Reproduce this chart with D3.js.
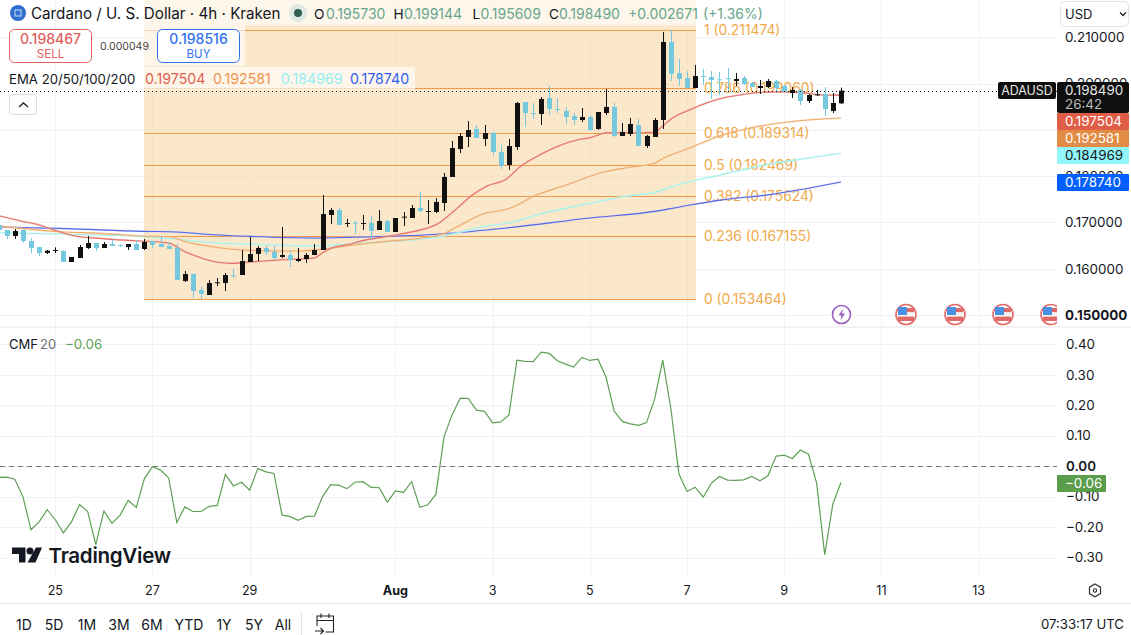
<!DOCTYPE html>
<html><head><meta charset="utf-8">
<script src="https://cdn.jsdelivr.net/npm/d3@7"></script>
<style>html,body{margin:0;padding:0;background:#fff;overflow:hidden}svg{display:block}text{font-family:Inter,"Noto Sans",sans-serif}</style>
</head><body><svg id="c" width="1131" height="635"></svg>
<script>
const opens=[.16946,.16838,.16708,.16838,.16600,.16471,.16341,.16399,.16385,.16147,.16233,.16449,.16557,.16449,.16536,.16507,.16471,.16536,.16428,.16600,.16536,.16492,.16449,.15736,.15888,.15542,.15434,.15700,.15693,.15859,.15866,.16147,.16320,.16449,.16363,.16255,.16298,.16168,.16212,.16298,.16406,.17162,.17270,.16982,.16996,.16975,.16989,.16838,.17032,.16795,.17112,.17097,.17313,.17234,.17227,.17421,.17983,.18588,.18847,.19020,.18804,.18933,.18523,.18242,.18631,.19603,.19365,.19344,.19689,.19452,.19408,.19300,.19214,.19279,.19020,.19365,.19495,.18868,.18912,.19106,.18652,.18847,.19214,.20899,.20229,.20121,.19905,.20164,.20143,.20092,.20114,.20056,.20121,.20013,.19905,.19927,.20056,.19948,.19797,.19862,.19624,.19754,.19776,.19408,.19573];
const highs=[.16980,.16838,.16860,.16852,.16658,.16471,.16406,.16464,.16399,.16255,.16514,.16708,.16557,.16579,.16636,.16536,.16536,.16622,.16644,.16600,.16708,.16579,.16536,.15952,.15909,.15607,.15758,.15801,.15909,.15996,.16406,.16687,.16492,.16492,.16492,.16903,.16385,.16449,.16341,.16536,.17594,.17313,.17313,.17076,.17032,.17162,.17140,.17270,.17054,.17097,.17227,.17378,.17659,.17486,.17529,.18069,.18760,.18933,.19192,.19106,.19106,.18955,.18674,.18804,.19603,.19603,.19581,.19711,.19948,.19689,.19495,.19365,.19473,.19322,.19387,.19884,.19581,.19149,.19257,.19236,.18890,.19257,.21115,.21158,.20532,.20272,.20402,.20316,.20272,.20251,.20337,.20229,.20164,.20035,.20078,.20100,.20078,.19970,.19927,.19884,.19776,.19862,.19927,.19797,.19914];
const lows=[.16838,.16644,.16644,.16564,.16341,.16276,.16320,.16341,.16147,.16147,.16233,.16428,.16385,.16449,.16492,.16471,.16406,.16406,.16406,.16449,.16471,.16428,.15758,.15715,.15369,.15348,.15434,.15628,.15520,.15801,.15866,.16147,.16168,.16298,.16190,.16233,.16039,.16147,.16125,.16298,.16406,.16968,.16946,.16903,.16752,.16838,.16636,.16838,.16795,.16795,.16924,.17097,.17227,.16968,.17205,.17248,.17983,.18501,.18631,.18825,.18652,.18458,.18156,.18134,.18566,.19063,.19236,.19106,.19322,.19365,.19128,.19106,.19171,.18976,.18998,.19322,.18847,.18868,.18868,.18652,.18609,.18847,.19020,.20056,.19948,.19905,.19905,.19970,.19668,.19754,.19840,.19948,.19970,.19927,.19776,.19905,.19797,.19819,.19689,.19538,.19581,.19732,.19300,.19365,.19561];
const closes=[.16838,.16708,.16816,.16600,.16449,.16341,.16392,.16406,.16147,.16255,.16471,.16557,.16449,.16536,.16492,.16500,.16536,.16406,.16579,.16514,.16471,.16428,.15758,.15888,.15520,.15456,.15693,.15708,.15866,.15844,.16168,.16320,.16449,.16363,.16233,.16298,.16190,.16212,.16298,.16406,.17184,.17270,.16946,.16989,.16989,.16989,.16816,.17032,.16795,.17097,.17126,.17313,.17248,.17248,.17443,.17983,.18609,.18868,.18998,.18825,.18933,.18523,.18220,.18652,.19581,.19365,.19351,.19668,.19452,.19437,.19279,.19214,.19279,.18998,.19387,.19495,.18868,.18955,.19128,.18652,.18868,.19214,.20899,.20208,.20100,.19905,.20164,.20150,.20078,.20078,.20100,.20100,.19992,.19927,.19948,.20056,.19905,.19819,.19862,.19624,.19754,.19768,.19452,.19581,.19849];
const cmfValues=[-.037,-.036,-.043,-.100,-.209,-.183,-.143,-.176,-.219,-.183,-.126,-.149,-.258,-.147,-.188,-.161,-.113,-.136,-.041,-.002,-.013,-.039,-.185,-.134,-.149,-.149,-.132,-.129,-.027,-.065,-.053,-.079,-.008,-.019,-.024,-.161,-.166,-.178,-.165,-.164,-.100,-.061,-.063,-.074,-.053,-.051,-.070,-.071,-.118,-.081,-.086,-.051,-.135,-.127,-.092,.097,.169,.223,.222,.184,.180,.142,.145,.167,.348,.344,.343,.374,.370,.346,.335,.325,.357,.347,.351,.292,.181,.147,.139,.134,.143,.220,.348,.190,-.026,-.083,-.069,-.102,-.056,-.034,-.046,-.047,-.045,-.034,-.048,-.031,.033,.036,.025,.053,.039,-.056,-.291,-.125,-.054];
const ema20Bars=[0,2.6,5,7.5,9.4,12.5,17.4,19.9,21.1,23,24.8,26.9,28.9,31,35.1,39,40,41.2,43.3,44.6,49.5,54.1,56.6,58.5,60.3,62.7,64.3,66.8,68.9,71.8,73,75.1,79.2,81,82,83.2,85.3,87.4,89.4,91.5,93.6,95.6,97.7,99.8,101.8,104];
const ema20=[.17147,.17038,.16946,.16801,.16708,.16658,.16600,.16578,.16550,.16369,.16248,.16146,.16118,.16146,.16196,.16233,.16347,.16455,.16529,.16593,.16745,.16960,.17306,.17593,.17788,.17939,.18192,.18458,.18637,.18797,.18831,.18939,.18939,.18948,.19084,.19257,.19430,.19581,.19689,.19754,.19803,.19818,.19818,.19790,.19754,.19750];
const ema50Bars=[0,7.5,12.5,17.8,21.1,23.2,26.4,31,37.2,40,43.3,46.2,54.5,56.6,59.8,63.1,66.4,70.1,74.6,77.9,81,81.9,84.1,85.3,89.4,93.6,97.7,104];
const ema50=[.16924,.16801,.16766,.16708,.16693,.16578,.16477,.16399,.16384,.16421,.16501,.16563,.16730,.16909,.17183,.17306,.17593,.17810,.18084,.18192,.18278,.18371,.18529,.18609,.18890,.19069,.19177,.19258];
const ema100Bars=[0,8.4,17.8,22,26.4,31,39.3,43.3,54.5,59.8,63.1,66.8,73,77.1,81,84.1,89.1,95.2,99.8,104];
const ema100=[.16779,.16745,.16693,.16637,.16563,.16535,.16492,.16535,.16693,.16909,.16995,.17177,.17414,.17557,.17652,.17825,.18025,.18263,.18386,.18497];
const ema200Bars=[0,8.4,17.8,22,26.4,31,39.3,43.3,54.5,62.7,73,81,84.1,89.1,95.2,104];
const ema200=[.16904,.16867,.16809,.16796,.16737,.16701,.16666,.16679,.16753,.16882,.17098,.17241,.17336,.17483,.17602,.17874];
const fibLevels=["1","0.786","0.618","0.5","0.382","0.236","0"];
const fibPrices=[.211474,.199060,.189314,.182469,.175624,.167155,.153464];
const priceTicks=[.21,.20,.19,.18,.17,.16,.15];
const cmfTicks=[.4,.3,.2,.1,0,-.1,-.2,-.3];
const dayTicks=[[6,25],[6,27],[6,29],[7,1],[7,3],[7,5],[7,7],[7,9],[7,11],[7,13]];
const rangeLabels=["1D","5D","1M","3M","6M","YTD","1Y","5Y","All"];
const tagValues=[["0.197504",.197504,"#e05d47","#fff"],["0.192581",.192581,"#e28b45","#fff"],["0.184969",.184969,"#93f6fa","#131722"],["0.178740",.17874,"#0060ff","#fff"]];

const firstBar=Date.UTC(2025,6,23,20,0); // bar 0 → Jul 23 20:00 (4h bars)
const H4=4*3600e3;
const t=i=>new Date(firstBar+i*H4);
const x=d3.scaleUtc().domain([Date.UTC(2025,6,25),Date.UTC(2025,7,13)]).range([55.3,978.6]);
const xb=i=>x(t(i));
const y=d3.scaleLinear().domain([.21,.15]).range([37.3,315.1]);
const yc=d3.scaleLinear().domain([.4,-.3]).range([344.3,557.5]);
const svg=d3.select("#c");
const GRID="#f0f1f3", W=1057;

const g=svg.append("g");
// grid
dayTicks.forEach(([m,d])=>{const X=Math.round(x(Date.UTC(2025,m,d)))+.5;
  g.append("line").attr("x1",X).attr("x2",X).attr("y1",0).attr("y2",327).attr("stroke",GRID);
  g.append("line").attr("x1",X).attr("x2",X).attr("y1",328).attr("y2",576).attr("stroke",GRID);});
priceTicks.forEach(p=>g.append("line").attr("x1",0).attr("x2",W).attr("y1",Math.round(y(p))+.5).attr("y2",Math.round(y(p))+.5).attr("stroke",GRID));
cmfTicks.forEach(p=>g.append("line").attr("x1",0).attr("x2",W).attr("y1",Math.round(yc(p))+.5).attr("y2",Math.round(yc(p))+.5).attr("stroke",GRID));
// fib zone
const fx0=144,fx1=696;
g.append("rect").attr("x",fx0).attr("y",0).attr("width",fx1-fx0).attr("height",y(fibPrices[6])).attr("fill","#f9d9a8").attr("opacity",.6);
fibPrices.forEach((p,i)=>{const Y=Math.round(y(p))+.5;
  g.append("line").attr("x1",fx0).attr("x2",fx1).attr("y1",Y).attr("y2",Y).attr("stroke","#f2994a");
  g.append("text").attr("x",704).attr("y",Y+4.5).attr("font-size",13.8).attr("fill","#f0a848").text(`${fibLevels[i]} (${p.toFixed(6)})`);});
// header translucent panels
g.append("rect").attr("x",fx0).attr("y",0).attr("width",fx1-fx0).attr("height",25).attr("fill","#fff").attr("opacity",.6);
g.append("rect").attr("x",fx0).attr("y",25).attr("width",101).attr("height",41).attr("fill","#fff").attr("opacity",.6);
g.append("rect").attr("x",0).attr("y",67).attr("width",415).attr("height",23).attr("fill","#fff").attr("opacity",.62);
// EMAs
const lg=d3.line().x(d=>xb(d[0])).y(d=>y(d[1])).curve(d3.curveMonotoneX);
[[ema200Bars,ema200,"#5468e8","#c8c8f4"],[ema100Bars,ema100,"#9df2ec","#d6f7f2"],[ema50Bars,ema50,"#f0aa6a","#f8d6b0"],[ema20Bars,ema20,"#e4706a","#f2b8a8"]].forEach(([b,v,c,h])=>{
  const pts=b.map((d,i)=>[d,v[i]]);
  g.append("path").attr("d",lg(pts)).attr("fill","none").attr("stroke",h).attr("stroke-width",2).attr("opacity",.5);
  g.append("path").attr("d",lg(pts)).attr("fill","none").attr("stroke",c).attr("stroke-width",1.1);
});
// candles
const UP="#111111",DN="#75c9df";
const cg=g.append("g");
opens.forEach((o,i)=>{const c=closes[i],col=c>=o?UP:DN,X=Math.round(xb(i));
  cg.append("rect").attr("x",X).attr("width",1).attr("y",y(highs[i])).attr("height",y(lows[i])-y(highs[i])).attr("fill",col);
  const top=y(Math.max(o,c)),bot=y(Math.min(o,c));
  cg.append("rect").attr("x",X-2).attr("width",5).attr("y",top).attr("height",Math.max(1,bot-top)).attr("fill",col);});
// dotted last price
const lastY=Math.round(y(closes[104]))+.5;
g.append("line").attr("x1",0).attr("x2",W).attr("y1",lastY).attr("y2",lastY).attr("stroke","#131722").attr("stroke-dasharray","1 3");
// events
const clip=svg.append("defs").append("clipPath").attr("id","pane").append("rect").attr("x",0).attr("y",0).attr("width",W).attr("height",327);
const eg=g.append("g").attr("clip-path","url(#pane)");
eg.append("circle").attr("cx",841.5).attr("cy",314.5).attr("r",9).attr("fill","#fff").attr("stroke","#9c5fc0").attr("stroke-width",1.6);
eg.append("path").attr("d","M843 308.5l-4.5 7h3l-1 5 4.5-7h-3z").attr("fill","#9c5fc0");
[906,955,1003,1051].forEach(cx=>{
  eg.append("circle").attr("cx",cx).attr("cy",314.5).attr("r",10).attr("fill","#fff").attr("stroke","#e26a66").attr("stroke-width",1.6);
  const f=eg.append("g");
  f.append("rect").attr("x",cx-8).attr("y",308).attr("width",16).attr("height",4.4).attr("fill","#e26a66");
  f.append("rect").attr("x",cx-8).attr("y",312.4).attr("width",16).attr("height",4.2).attr("fill","#f4f4f4");
  f.append("rect").attr("x",cx-8).attr("y",316.6).attr("width",16).attr("height",4.4).attr("fill","#e26a66");
  f.append("rect").attr("x",cx-8).attr("y",307).attr("width",9).attr("height",8).attr("fill","#4a90e2");
});
// separators
[[327,0,1131],[603.5,0,1131]].forEach(([Y,a,b])=>g.append("line").attr("x1",a).attr("x2",b).attr("y1",Y).attr("y2",Y).attr("stroke","#e6e6e8"));
// CMF
const zeroY=Math.round(yc(0))+.5;
g.append("line").attr("x1",0).attr("x2",W).attr("y1",zeroY).attr("y2",zeroY).attr("stroke","#787b86").attr("stroke-dasharray","5 4");
const cl=d3.line().x((d,i)=>xb(i)).y(d=>yc(d));
g.append("path").attr("d",cl(cmfValues)).attr("fill","none").attr("stroke","#5f9f55").attr("stroke-width",1.2);
// Logo
const logo=g.append("g").attr("fill","#131722");
logo.append("path").attr("d","M12 547.5H25.5V562.5H19V554H12Z");
logo.append("circle").attr("cx",30).attr("cy",551).attr("r",3.5);
logo.append("path").attr("d","M36 547.5H42L35.5 562.5H27.5Z");
logo.append("text").attr("x",48.5).attr("y",562.5).attr("font-size",20.6).attr("font-weight",600).attr("letter-spacing",-.3).attr("fill","#131722").text("TradingView");
// Header
const T=(sel,X,Y,s,fs,fill,extra={})=>{const e=sel.append("text").attr("x",X).attr("y",Y).attr("font-size",fs).attr("fill",fill).text(s);Object.entries(extra).forEach(([k,v])=>e.attr(k,v));return e;};
g.append("circle").attr("cx",18).attr("cy",13).attr("r",8).attr("fill","#2f6fd0");
g.append("rect").attr("x",15).attr("y",10).attr("width",6).attr("height",6).attr("fill","none").attr("stroke","#cfe0f8").attr("stroke-width",1);
T(g,31,18.5,"Cardano / U. S. Dollar · 4h · Kraken",15.2,"#131722");
g.append("circle").attr("cx",298).attr("cy",13).attr("r",9).attr("fill","#dfe9e2");
g.append("circle").attr("cx",298).attr("cy",13).attr("r",4).attr("fill","#2f5d50");
const ohlcLabels=[["O",314],["H",393.5],["L",472.5],["C",549]];
const ohlcVals=[["0.195730",326],["0.199144",404],["0.195609",480.5],["0.198490",559]];
const VC="#67a58d";
ohlcLabels.forEach(([s,X])=>T(g,X,18.5,s,13.6,"#131722"));
ohlcVals.forEach(([s,X])=>T(g,X,18.5,s,14,VC));
T(g,628,18.5,"+0.002671",14,VC);T(g,703,18.5,"(+1.36%)",14,VC);
// sell / buy
[[10,"#e0605c","0.198467","SELL"],[158,"#2f72f0","0.198516","BUY"]].forEach(([X,c,v,l])=>{
  g.append("rect").attr("x",X-.5).attr("y",29.5).attr("width",82).attr("height",33).attr("rx",5).attr("fill","#fff").attr("stroke",c);
  T(g,X+40.5,43.5,v,14,c,{"text-anchor":"middle","font-weight":500});
  T(g,X+40.5,57.5,l,11.5,c,{"text-anchor":"middle"});
});
T(g,100,50,"0.000049",10.5,"#444");
// EMA legend
T(g,9,84,"EMA 20/50/100/200",13.2,"#131722");
[["0.197504",145,"#e0604c"],["0.192581",213,"#ee9350"],["0.184969",281,"#93eef2"],["0.178740",350,"#2f5ff0"]].forEach(([s,X,c])=>T(g,X,84,s,14.2,c));
g.append("rect").attr("x",9.5).attr("y",94.5).attr("width",27).attr("height",20).attr("rx",3).attr("fill","#fff").attr("stroke","#dcdcdf");
g.append("path").attr("d","M19 107l4.5-4 4.5 4").attr("fill","none").attr("stroke","#222").attr("stroke-width",1.4);
T(g,9,349,"CMF",13,"#131722");T(g,40,349,"20",13,"#6a6d78");
T(g,65,349,"−0.06",13.4,"#5f9f55");
// right axis
const A=svg.append("g");
priceTicks.forEach(p=>T(A,1065,y(p)+4.8,p.toFixed(6),13.4,"#131722",p===.15?{"font-weight":700}:{}));
cmfTicks.forEach(p=>T(A,1066,yc(p)+4.8,(p<0?"−":"")+Math.abs(p).toFixed(2),13.4,"#131722",p===0?{"font-weight":600}:{}));
// USD select
A.append("rect").attr("x",1060.5).attr("y",1.5).attr("width",68).attr("height",25).attr("rx",4).attr("fill","#fff").attr("stroke","#e4e4e6");
T(A,1065,19,"USD",13,"#131722");
A.append("path").attr("d","M1120 12.5l3 3 3-3").attr("fill","none").attr("stroke","#222").attr("stroke-width",1.3);
// tags
A.append("rect").attr("x",998).attr("y",82).attr("width",58).attr("height",17).attr("rx",2).attr("fill","#0f0f0f");
T(A,1027,95,"ADAUSD",12.4,"#e8e8e8",{"text-anchor":"middle"});
A.append("rect").attr("x",1057).attr("y",82).attr("width",72).attr("height",31).attr("rx",2).attr("fill","#0f0f0f");
T(A,1065,95,closes[104].toFixed(5)+"0",13.4,"#e8e8e8");
T(A,1065,109,"26:42",13.4,"#bdbdbd");
tagValues.forEach(([s,p,bg,fg],k)=>{const Y=[121.5,138.5,155.5,182.5][k];
  A.append("rect").attr("x",1057).attr("y",Y-8.5).attr("width",72).attr("height",17).attr("rx",1).attr("fill",bg);
  T(A,1065,Y+4.8,s,13.4,fg);});
A.append("rect").attr("x",1057).attr("y",475).attr("width",49).attr("height",17).attr("rx",1).attr("fill","#5a9e4c");
T(A,1065,488,"−0.06",13.4,"#fff");
// time axis
dayTicks.forEach(([m,d])=>{const X=x(Date.UTC(2025,m,d));const isAug=m===7&&d===1;
  T(A,X,595,isAug?"Aug":String(d),12.6,"#131722",{"text-anchor":"middle","font-weight":isAug?700:400});});
// auto icon
A.append("path").attr("d","M1095 584l5.5 3.2v6.4l-5.5 3.2-5.5-3.2v-6.4z").attr("fill","none").attr("stroke","#333").attr("stroke-width",1.2);
A.append("circle").attr("cx",1095).attr("cy",590.5).attr("r",1.7).attr("fill","none").attr("stroke","#333").attr("stroke-width",1.1);
// range
[24,54,87,119,152,189,224,254,283].forEach((X,i)=>T(A,X,630,rangeLabels[i],14,"#131722",{"text-anchor":"middle"}));
A.append("line").attr("x1",301.5).attr("x2",301.5).attr("y1",612).attr("y2",635).attr("stroke","#e2e2e4");
A.append("path").attr("d","M317 626v-10h16.5v16h-8M317 620.5h16.5M321 613.5v4.5M329 613.5v4.5M315 631h8M320.5 628l3 3-3 3").attr("fill","none").attr("stroke","#222").attr("stroke-width",1.1);
T(A,1124,629,"07:33:17 UTC",13.2,"#131722",{"text-anchor":"end"});
</script></body></html>
